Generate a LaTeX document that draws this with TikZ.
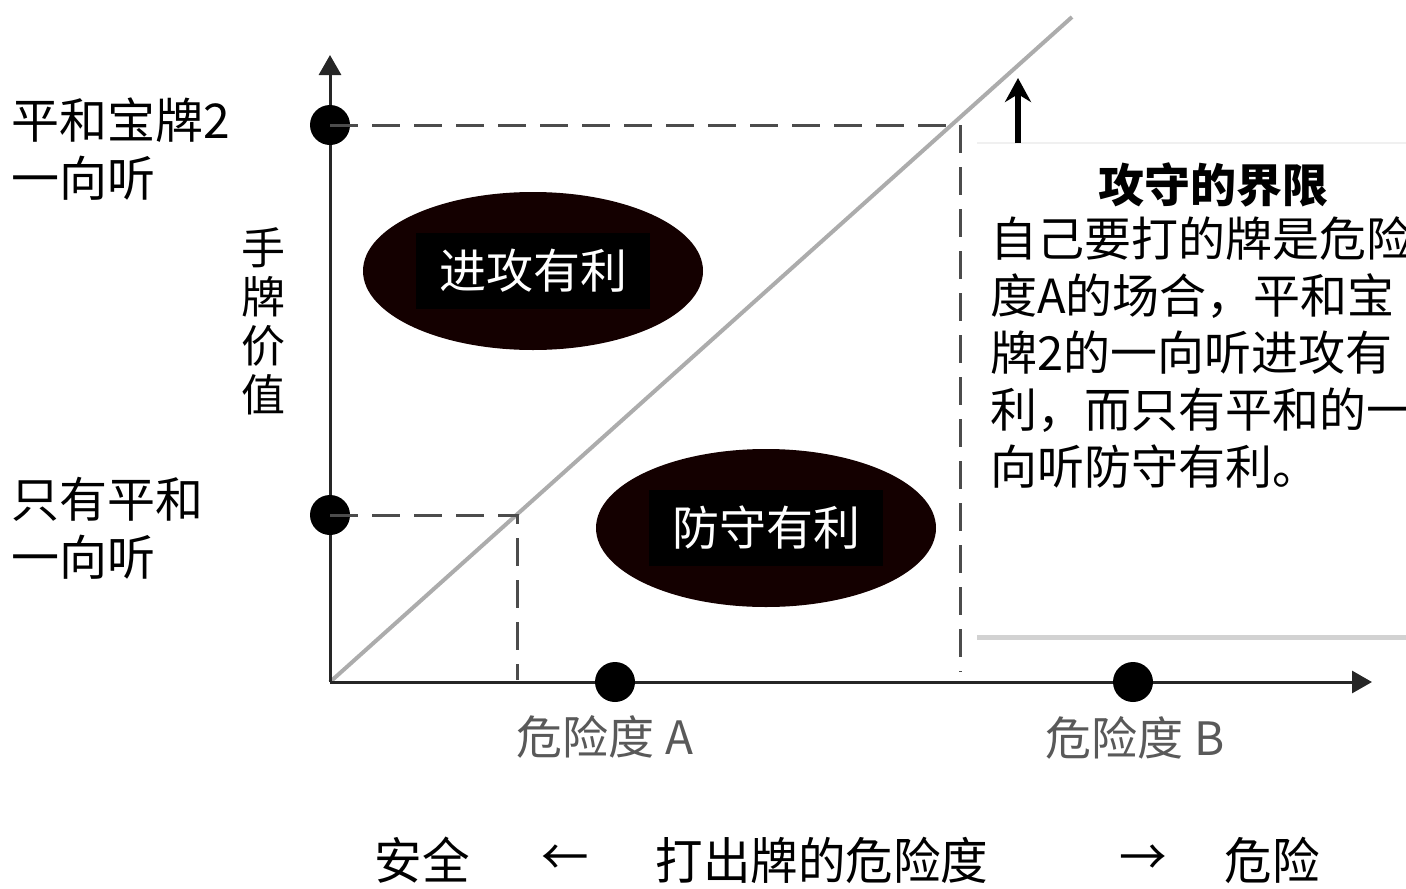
\documentclass[tikz,border=0pt]{standalone}
\usepackage{fontspec}
\setmainfont{Noto Sans CJK SC}
\usepackage{tikz}
\usetikzlibrary{arrows.meta,shapes.geometric}

\begin{document}
\begin{tikzpicture}[x=1pt,y=-1pt]
                \pgfmathsetmacro{\R}{20}
                \tikzset{%
                    inner sep=0pt,%
                    outer sep=0pt,%
                     mark coordinate/.style=
                     {inner sep=0pt,outer sep=0pt,minimum size=2*\R pt,
                    fill=black,circle},%
                     guide line/.style={black!70,line width=3pt,dash pattern=on 28pt off 14pt},%
                     axis line/.style={black!85,line width=3pt,-{Triangle[length=20pt,width=22pt]}},%
                     zone/.style={ellipse,fill=black!92!red,minimum width=340pt,minimum height=158pt},%
                     zone text/.style={fill=black,text=white,minimum width=234pt,minimum height=76pt,
                    font=\fontsize{47}{50}\selectfont},%
                     big text/.style={font=\fontsize{48}{58}\selectfont,align=left},%
                     tick text/.style={text=black!65,font=\fontsize{46}{50}\selectfont},%
                     foot text/.style={xscale=0.95,font=\fontsize{50}{54}\selectfont}%
                        }
            % 画布大小和参考图一致
            \useasboundingbox (0,0) rectangle (1406,889);
            \clip (0,0) rectangle (1406,889);
	        {
                % 坐标轴
                \coordinate (O) at (330,682);
                \coordinate (Ytip) at (330,55);
                \coordinate (Xtip) at (1372,682);
                \coordinate (Lend) at (1072,17);
                \draw[gray!65,line width=4pt] (O) -- (Lend);
                \draw[axis line] (O) -- (Ytip);
                \draw[axis line] (O) -- (Xtip);
                % 虚线
                \coordinate (cH) at (960,125);
                \coordinate (fH) at (960,672);
                \coordinate (cL) at (517,515);
                \coordinate (fL) at (517,680);
                \node[mark coordinate] (pH) at (330,125) {};
                \node[mark coordinate] (pL) at (330,515) {};
                \node[mark coordinate] (dA) at (615,682) {};
                \node[mark coordinate] (dB) at (1133,682) {};
                \draw[guide line] (pH.center) -- (cH) -- (fH);
                \draw[guide line] (pL.center) -- (cL) -- (fL);
                % 说明框
                \fill[white] (977,143) rectangle (1406,636);
                \draw[gray!12,line width=1.5pt] (977,143) -- (1406,143);
                \draw[gray!35,line width=5pt] (977,637) -- (1406,637);
                \coordinate (Abot) at (1018,143);
                \coordinate (Atop) at (1018,78);
                \draw[line width=6pt,-{Stealth[length=24pt,width=26pt]}] (Abot) -- (Atop);
                \node[font=\fontsize{46}{50}\selectfont\bfseries] (title) at (1213,185) {攻守的界限};
                \node[big text,anchor=north west,font=\fontsize{47}{57}\selectfont] (note) at (990,217)
                {自己要打的牌是危险\\度A的场合，平和宝\\牌2的一向听进攻有\\利，而只有平和的一\\向听防守有利。};
                % 两个区域
                \node[zone] (att) at (533,271) {};
                \node[zone text] at (att) {进攻有利};
                \node[zone] (def) at (766,528) {};
                \node[zone text] at (def) {防守有利};
                % 左侧文字
                \node[big text,anchor=west] (hiV) at (12,149) {平和宝牌2\\一向听};
                \node[big text,anchor=west] (loV) at (12,528) {只有平和\\一向听};
                \node[font=\fontsize{44}{49}\selectfont,align=center] (yl) at (263,321) {手\\牌\\价\\值};
                % 横轴文字
                \node[tick text] (tA) at (605,737) {危险度 A};
                \node[tick text] (tB) at (1135,738) {危险度 B};
                \node[foot text] (safe) at (422,860) {安全};
                \node[foot text] (la) at (565,860) {←};
                \node[foot text] (xl) at (822,860) {打出牌的危险度};
                \node[foot text] (ra) at (1143,860) {→};
                \node[foot text] (risk) at (1272,860) {危险};
            }
            \end{tikzpicture}
\end{document}
